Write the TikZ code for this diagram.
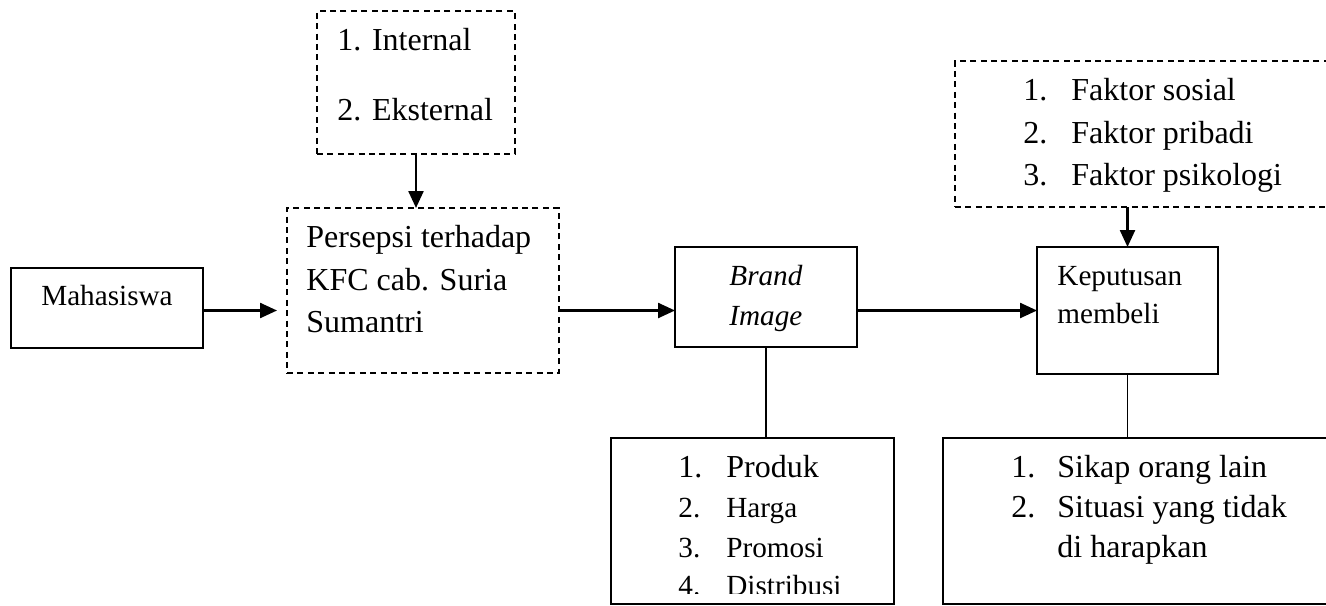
\documentclass[tikz,border=0pt]{standalone}
\usepackage{fontspec}
\setmainfont{Liberation Serif}
\usetikzlibrary{arrows.meta}

\begin{document}
\begin{tikzpicture}[x=0.5pt, y=-0.5pt,
    box/.style={draw, line width=1pt, inner sep=0pt, outer sep=0pt},
    dbox/.style={draw, line width=0.8pt, dash pattern=on 3pt off 2.2pt, inner sep=0pt, outer sep=0pt},
    arr/.style={line width=1.2pt, -{Triangle[length=8.5pt, width=7.5pt]}},
    lnk/.style={line width=0.8pt},
    big/.style={anchor=base west, inner sep=0pt, font=\fontsize{16pt}{19pt}\selectfont},
    small/.style={anchor=base west, inner sep=0pt, font=\fontsize{14.6pt}{17pt}\selectfont},
]
    \clip (0,0) rectangle (1326,605);

    % kotak-kotak
    \node[dbox, minimum width=99pt, minimum height=71.5pt] (int) at (416,82.5) {};
    \node[dbox, minimum width=136pt, minimum height=82.5pt] (per) at (423,290.5) {};
    \node[box, minimum width=96pt, minimum height=40pt] (mhs) at (107,308) {};
    \node[box, minimum width=91pt, minimum height=50pt] (br) at (766,297) {};
    \node[box, minimum width=90.5pt, minimum height=63.5pt] (kep) at (1127.5,310.5) {};
    \node[dbox, minimum width=195pt, minimum height=73pt] (fak) at (1150,134) {};
    \node[box, minimum width=141.5pt, minimum height=83pt] (prod) at (752.5,521) {};
    \node[box, minimum width=201pt, minimum height=83pt] (sik) at (1144,521) {};

    % teks
    \node[big] (int-1) at (337,50) {1. Internal};
    \node[big] (int-2) at (337,120) {2. Eksternal};

    \node[big] (per-1) at (306,247) {Persepsi terhadap};
    \node[big] (per-2) at (306,290) {KFC cab. Suria};
    \node[big] (per-3) at (306,332) {Sumantri};

    \node[small, anchor=base] (mhs-t) at (107,305) {Mahasiswa};

    \node[small] (br-1) at (729,285) {\textit{Brand}};
    \node[small] (br-2) at (729,325) {\textit{Image}};

    \node[small] (kep-1) at (1057,285) {Keputusan};
    \node[small] (kep-2) at (1057,323) {membeli};

    \node[big] (fak-n1) at (1023,100) {1.};
    \node[big] (fak-t1) at (1071,100) {Faktor sosial};
    \node[big] (fak-n2) at (1023,143) {2.};
    \node[big] (fak-t2) at (1071,143) {Faktor pribadi};
    \node[big] (fak-n3) at (1023,185) {3.};
    \node[big] (fak-t3) at (1071,185) {Faktor psikologi};

    \node[big] (prod-n1) at (678,477) {1.};
    \node[big] (prod-t1) at (726,477) {Produk};
    \node[small] (prod-n2) at (678,517) {2.};
    \node[small] (prod-t2) at (726,517) {Harga};
    \node[small] (prod-n3) at (678,557) {3.};
    \node[small] (prod-t3) at (726,557) {Promosi};
    \begin{scope}
        \clip (612,560) rectangle (893,593);
        \node[small] (prod-n4) at (678,595) {4.};
        \node[small] (prod-t4) at (726,595) {Distribusi};
    \end{scope}

    \node[big] (sik-n1) at (1011,477) {1.};
    \node[big] (sik-t1) at (1057,477) {Sikap orang lain};
    \node[big] (sik-n2) at (1011,517) {2.};
    \node[big] (sik-t2) at (1057,517) {Situasi yang tidak};
    \node[big] (sik-t3) at (1057,557) {di harapkan};

    % panah
    \draw[arr] (int.south) -- (int.south |- per.north);
    \draw[arr, shorten >=5pt] (mhs.east |- kep.west) -- (per.west |- kep.west);
    \draw[arr] (per.east |- kep.west) -- (br.west |- kep.west);
    \draw[arr] (br.east |- kep.west) -- (kep.west);
    \draw[arr] (kep.north |- fak.south) -- (kep.north);
    \draw[lnk] (br.south) -- (br.south |- prod.north);
    \draw[lnk] (kep.south) -- (kep.south |- sik.north);
\end{tikzpicture}
\end{document}
